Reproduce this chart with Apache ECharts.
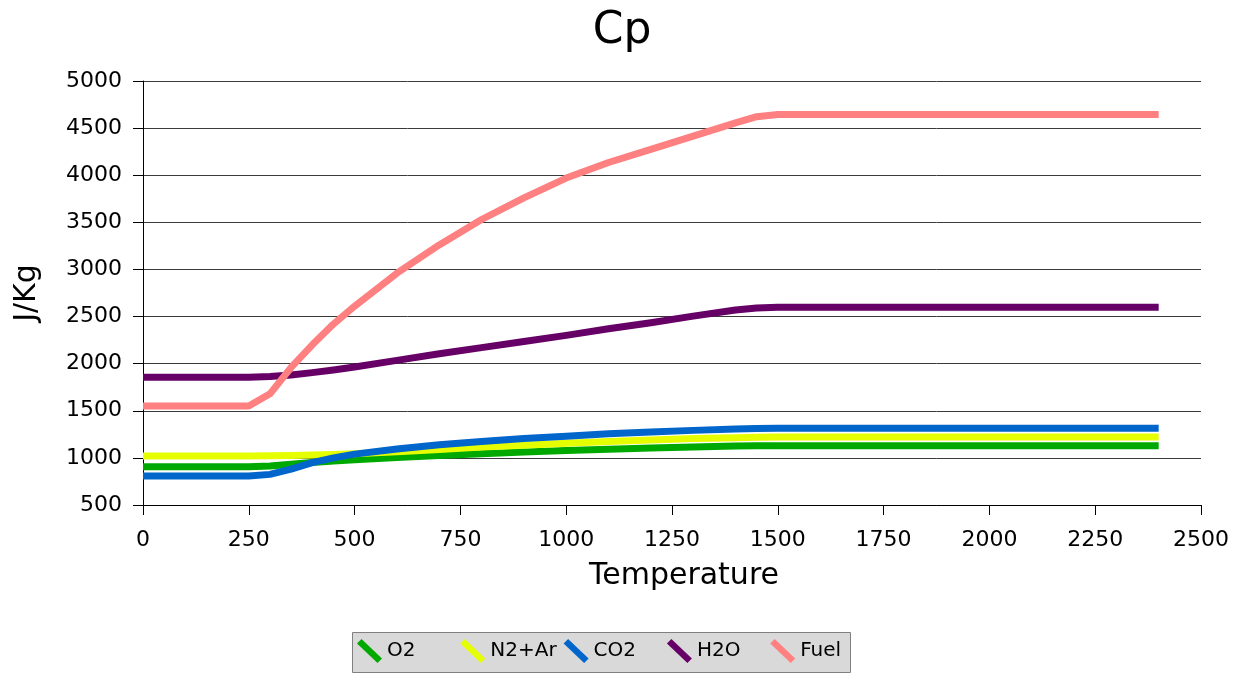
<!DOCTYPE html>
<html>
<head>
<meta charset="utf-8">
<title>Cp</title>
<script src="https://cdn.jsdelivr.net/npm/echarts@6/dist/echarts.min.js"></script>
<style>
  html, body { margin: 0; padding: 0; background: #ffffff; }
  #chart { width: 1244px; height: 675px; }
</style>
</head>
<body>
<div id="chart"></div>
<script>
// Temperature sample points shared by every species
const temperatures = [0, 250, 300, 350, 400, 450, 500, 600, 700, 800, 900, 1000, 1100, 1200, 1300, 1400, 1450, 1500, 2400];

// Specific heat, J/Kg
const cpO2   = [906, 906, 915, 932, 950, 966, 980, 1005, 1025, 1045, 1062, 1078, 1092, 1105, 1116, 1125, 1128, 1130, 1130];
const cpN2Ar = [1020, 1020, 1022, 1025, 1030, 1037, 1045, 1065, 1090, 1115, 1135, 1155, 1175, 1190, 1205, 1215, 1220, 1222, 1222];
const cpCO2  = [808, 808, 825, 880, 950, 1000, 1040, 1095, 1140, 1175, 1205, 1230, 1255, 1275, 1292, 1306, 1312, 1314, 1314];
const cpH2O  = [1855, 1855, 1865, 1880, 1905, 1933, 1965, 2035, 2105, 2170, 2235, 2300, 2370, 2435, 2505, 2570, 2590, 2600, 2600];
const cpFuel = [1550, 1550, 1680, 1960, 2200, 2420, 2610, 2960, 3260, 3530, 3760, 3970, 4135, 4275, 4415, 4555, 4621, 4645, 4645];

const seriesNames  = ['O2', 'N2+Ar', 'CO2', 'H2O', 'Fuel'];
const seriesValues = [cpO2, cpN2Ar, cpCO2, cpH2O, cpFuel];
const seriesColors = ['#00a900', '#e6ff00', '#0066cc', '#660066', '#ff8080'];

const FONT = '"DejaVu Sans", "Liberation Sans", sans-serif';

const chart = echarts.init(document.getElementById('chart'), null, { renderer: 'canvas' });

const series = seriesNames.map((name, i) => ({
  name: name,
  type: 'line',
  data: temperatures.map((t, k) => [t, seriesValues[i][k]]),
  showSymbol: false,
  symbol: 'none',
  color: seriesColors[i],
  lineStyle: { width: 7, color: seriesColors[i], cap: 'butt', join: 'round' },
  emphasis: { disabled: true },
  z: 2 + i
}));

// Legend: one entry per column at a fixed pitch, inside a grey framed box
const legendIcon = 'path://M0,4.5 L4.5,0 L25,19.5 L20.5,24 Z';
const LEGEND_BOX = { x: 352, y: 632, w: 498, h: 40 };
const LEGEND_PITCH = 103.3;
const legends = seriesNames.map((name, i) => ({
  left: LEGEND_BOX.x + 5 + i * LEGEND_PITCH,
  top: LEGEND_BOX.y + 7,
  padding: 0,
  itemGap: 0,
  itemWidth: 25,
  itemHeight: 24,
  icon: legendIcon,
  itemStyle: { borderWidth: 0 },
  selectedMode: false,
  data: [name],
  textStyle: { fontFamily: FONT, fontSize: 20, color: '#000000', padding: [4, 0, 0, 0] },
  z: 5
}));

chart.setOption({
  animation: false,
  backgroundColor: '#ffffff',
  title: {
    text: 'Cp',
    left: 'center',
    top: 5,
    textStyle: { fontFamily: FONT, fontSize: 44, fontWeight: 'normal', color: '#000000' }
  },
  grid: { left: 143, right: 43, top: 81, bottom: 170, containLabel: false },
  graphic: [{
    type: 'rect',
    z: 1,
    silent: true,
    shape: { x: LEGEND_BOX.x + 0.5, y: LEGEND_BOX.y + 0.5, width: LEGEND_BOX.w, height: LEGEND_BOX.h },
    style: { fill: '#d9d9d9', stroke: '#808080', lineWidth: 1 }
  }],
  legend: legends,
  xAxis: {
    type: 'value',
    min: 0,
    max: 2500,
    interval: 250,
    name: 'Temperature',
    nameLocation: 'middle',
    nameGap: 56,
    nameTextStyle: { fontFamily: FONT, fontSize: 30, color: '#000000', verticalAlign: 'top', padding: [0, 0, 0, 24] },
    axisLine: { show: true, onZero: false, lineStyle: { color: '#000000', width: 1 } },
    axisTick: { show: true, length: 10, inside: false, lineStyle: { color: '#000000' } },
    axisLabel: { fontFamily: FONT, fontSize: 22, color: '#000000', margin: 24, formatter: (v) => String(v) },
    splitLine: { show: false }
  },
  yAxis: {
    type: 'value',
    min: 500,
    max: 5000,
    interval: 500,
    name: 'J/Kg',
    nameLocation: 'middle',
    nameGap: 101,
    nameRotate: 90,
    nameTextStyle: { fontFamily: FONT, fontSize: 30, color: '#000000' },
    axisLine: { show: true, lineStyle: { color: '#000000', width: 1 } },
    axisTick: { show: true, length: 10, inside: false, lineStyle: { color: '#000000' } },
    axisLabel: { fontFamily: FONT, fontSize: 22, color: '#000000', margin: 21, formatter: (v) => String(v) },
    splitLine: { show: true, lineStyle: { color: '#3a3a3a', width: 1 } }
  },
  series: series
});
</script>
</body>
</html>
